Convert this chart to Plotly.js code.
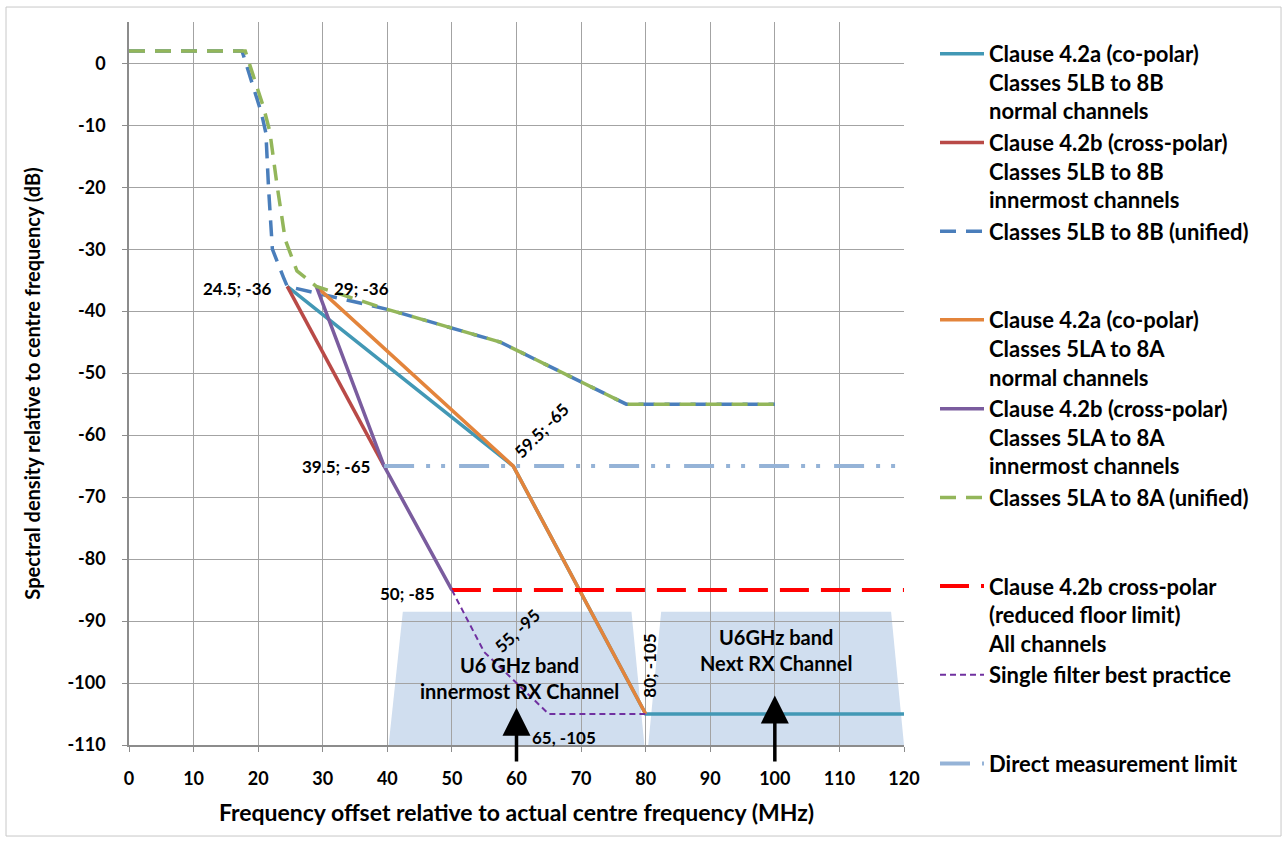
<!DOCTYPE html>
<html><head><meta charset="utf-8">
<script src="https://cdn.plot.ly/plotly-3.0.1.min.js"></script>
<style>html,body{margin:0;padding:0;background:#fff}</style>
</head><body><div id="chart" style="width:1286px;height:841px"></div>
<script>
// ---- data (MHz offset, dB) ----
const x_42a_5LB = [24.5, 59.5, 80, 120];
const y_42a_5LB = [-36, -65, -105, -105];
const x_42b_5LB = [24.5, 39.5];
const y_42b_5LB = [-36, -65];
const x_uni_5LB = [0, 17.5, 20.5, 21.2, 21.6, 22.2, 23.9, 24.5, 40, 57.5, 77, 100];
const y_uni_5LB = [2, 2, -8, -11.3, -20, -30, -34.5, -36, -39.7, -45, -55, -55];
const x_42a_5LA = [29, 59.5, 80];
const y_42a_5LA = [-36, -65, -105];
const x_42b_5LA = [29, 39.5, 50];
const y_42b_5LA = [-36, -65, -85];
const x_uni_5LA = [0, 18, 20.8, 21.8, 22.9, 24.2, 26, 29, 40, 57.5, 77, 100];
const y_uni_5LA = [2, 2, -7, -11, -19.5, -28.5, -33.5, -36, -39.7, -45, -55, -55];
const x_floor = [50, 120];
const y_floor = [-85, -85];
const x_single = [50, 55, 65, 80];
const y_single = [-85, -95, -105, -105];
const x_direct = [39.5, 120];
const y_direct = [-65, -65];
const bandInnerX = [40.2, 42.4, 77.8, 79.8];
const bandInnerY = [-110, -88.5, -88.5, -110];
const bandNextX = [80.4, 82.4, 118, 120];
const bandNextY = [-110, -88.5, -88.5, -110];
const arrowX = [60, 100];
const arrowTipY = [-104, -102];
const arrowTailY = [-112.9, -112.9];
const xTicks = [0, 10, 20, 30, 40, 50, 60, 70, 80, 90, 100, 110, 120];
const yTicks = [0, -10, -20, -30, -40, -50, -60, -70, -80, -90, -100, -110];

const FONT = 'Lato, "Liberation Sans", Arial, sans-serif';

function line(x, y, name, color, width, dash, group) {
  return {type: 'scatter', mode: 'lines', x: x, y: y, name: name, legendgroup: group,
          line: {color: color, width: width, dash: dash || 'solid'}, hoverinfo: 'x+y'};
}

const traces = [
  line(x_42a_5LB, y_42a_5LB, 'Clause 4.2a (co-polar)<br>Classes 5LB to 8B<br>normal channels', '#4298b5', 3.5, 'solid', 'a'),
  line(x_42b_5LB, y_42b_5LB, 'Clause 4.2b (cross-polar)<br>Classes 5LB to 8B<br>innermost channels', '#b94a47', 3.5, 'solid', 'a'),
  line(x_uni_5LB, y_uni_5LB, 'Classes 5LB to 8B (unified)', '#4a7ebb', 3.5, '16px,10px', 'a'),
  line(x_42a_5LA, y_42a_5LA, 'Clause 4.2a (co-polar)<br>Classes 5LA to 8A<br>normal channels', '#e3843b', 3.5, 'solid', 'b'),
  line(x_42b_5LA, y_42b_5LA, 'Clause 4.2b (cross-polar)<br>Classes 5LA to 8A<br>innermost channels', '#7a5c9e', 3.5, 'solid', 'b'),
  line(x_uni_5LA, y_uni_5LA, 'Classes 5LA to 8A (unified)', '#93b65a', 3.5, '16px,10px', 'b'),
  line(x_floor, y_floor, 'Clause 4.2b cross-polar<br>(reduced floor limit)<br>All channels', '#ff0000', 4, '29px,12px', 'c'),
  line(x_single, y_single, 'Single filter best practice', '#7030a0', 2, '6px,4px', 'c'),
  line(x_direct, y_direct, 'Direct measurement limit', '#95b3d7', 4, '30px,12px,4px,11px,4px,14px', 'd')
];

function polyPath(xs, ys) {
  return 'M' + xs.map((v, i) => v + ',' + ys[i]).join(' L') + ' Z';
}

const shapes = [
  {type: 'path', xref: 'x', yref: 'y', layer: 'below', path: polyPath(bandInnerX, bandInnerY),
   fillcolor: '#d0deef', line: {width: 0}},
  {type: 'path', xref: 'x', yref: 'y', layer: 'below', path: polyPath(bandNextX, bandNextY),
   fillcolor: '#d0deef', line: {width: 0}},
  {type: 'rect', xref: 'paper', yref: 'paper', x0: -0.1587, x1: 1.4865, y0: -0.1259, y1: 1.0207,
   line: {color: '#c8c8c8', width: 1}, fillcolor: 'rgba(0,0,0,0)', layer: 'below'}
];

const lblFont = {family: FONT, size: 17, color: '#000', weight: 'bold'};
function ptLabel(text, x, y, opts) {
  return Object.assign({x: x, y: y, xref: 'x', yref: 'y', text: text, showarrow: false,
                        font: lblFont}, opts);
}

const annotations = [
  ptLabel('24.5; -36', x_42b_5LB[0], y_42b_5LB[0], {xanchor: 'right', yanchor: 'middle', xshift: -13, yshift: -2}),
  ptLabel('29; -36', x_42b_5LA[0], y_42b_5LA[0], {xanchor: 'left', yanchor: 'middle', xshift: 16, yshift: -2}),
  ptLabel('39.5; -65', x_42b_5LA[1], y_42b_5LA[1], {xanchor: 'right', yanchor: 'middle', xshift: -12}),
  ptLabel('59.5; -65', x_42a_5LA[1], y_42a_5LA[1], {xanchor: 'center', yanchor: 'middle', xshift: 28, yshift: 36, textangle: -45}),
  ptLabel('50; -85', x_42b_5LA[2], y_42b_5LA[2], {xanchor: 'right', yanchor: 'middle', xshift: -15, yshift: -3}),
  ptLabel('55, -95', x_single[1], y_single[1], {xanchor: 'center', yanchor: 'middle', xshift: 33, yshift: 22, textangle: -43}),
  ptLabel('80; -105', x_42a_5LA[2], y_42a_5LA[2], {xanchor: 'center', yanchor: 'middle', xshift: 3, yshift: 48, textangle: -90}),
  ptLabel('65, -105', x_single[2], y_single[2], {xanchor: 'center', yanchor: 'middle', xshift: 15, yshift: -23}),
  {x: 60.4, y: -99.2, xref: 'x', yref: 'y', showarrow: false, text: 'U6 GHz band<br>innermost RX Channel',
   font: {family: FONT, size: 20, color: '#000', weight: 'bold'}},
  {x: 100.2, y: -94.7, xref: 'x', yref: 'y', showarrow: false, text: 'U6GHz band<br>Next RX Channel',
   font: {family: FONT, size: 20, color: '#000', weight: 'bold'}}
];
arrowX.forEach((ax, i) => {
  annotations.push({x: ax, y: arrowTipY[i], ax: ax, ay: arrowTailY[i], xref: 'x', yref: 'y',
    axref: 'x', ayref: 'y', text: '', showarrow: true, arrowhead: 2, arrowsize: 1.6,
    arrowwidth: 3.5, arrowcolor: '#000'});
});

const layout = {
  width: 1286, height: 841,
  margin: {l: 129, r: 382, t: 22, b: 96},
  paper_bgcolor: '#fff', plot_bgcolor: '#fff',
  font: {family: FONT, color: '#000'},
  showlegend: true,
  legend: {x: 1.04, y: 0.985, xanchor: 'left', yanchor: 'top', traceorder: 'grouped',
           tracegroupgap: 57, itemwidth: 44, valign: 'top', maxheight: 835,
           bgcolor: 'rgba(0,0,0,0)',
           font: {family: FONT, size: 22, color: '#000', weight: 'bold'}},
  xaxis: {range: [0, 120], tickvals: xTicks, ticktext: xTicks.map(String),
          showgrid: true, gridcolor: '#a3a3a3', gridwidth: 1.3, zeroline: false,
          showline: true, linecolor: '#8c8c8c', linewidth: 1.5,
          ticks: 'outside', ticklen: 5, tickcolor: '#8c8c8c', ticklabelstandoff: 12,
          tickfont: {family: FONT, size: 18, color: '#000', weight: 'bold'},
          title: {text: 'Frequency offset relative to actual centre frequency (MHz)', standoff: 17,
                  font: {family: FONT, size: 23, color: '#000', weight: 'bold'}}},
  yaxis: {range: [-110, 6.66], tickvals: yTicks, ticktext: yTicks.map(String),
          showgrid: true, gridcolor: '#a3a3a3', gridwidth: 1.3, zeroline: false,
          showline: true, linecolor: '#8c8c8c', linewidth: 1.5,
          ticks: 'outside', ticklen: 5, tickcolor: '#8c8c8c', ticklabelstandoff: 13,
          tickfont: {family: FONT, size: 18, color: '#000', weight: 'bold'},
          title: {text: 'Spectral density relative to centre frequency (dB)', standoff: 22,
                  font: {family: FONT, size: 20, color: '#000', weight: 'bold'}}},
  shapes: shapes,
  annotations: annotations
};

Plotly.newPlot('chart', traces, layout, {displayModeBar: false});
</script></body></html>
